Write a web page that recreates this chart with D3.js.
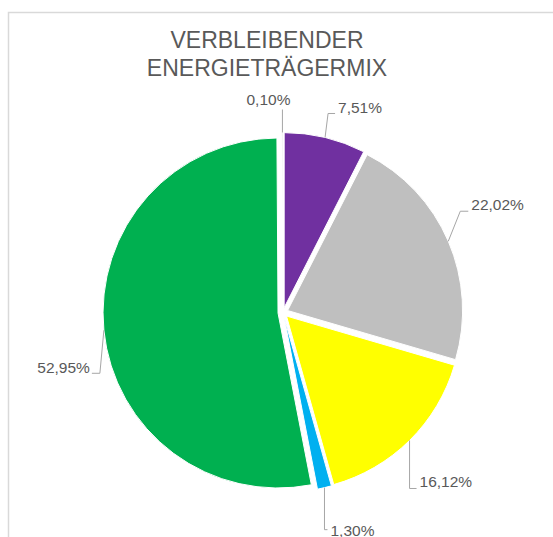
<!DOCTYPE html>
<html>
<head>
<meta charset="utf-8">
<script src="https://cdn.jsdelivr.net/npm/d3@7"></script>
<style>
  body { margin: 0; background: #fff; }
  svg { display: block; font-family: "Liberation Sans", Arial, sans-serif; }
</style>
</head>
<body>
<div id="chart"></div>
<script>
// data, clockwise from 12 o'clock
const categories = ["Sonstige A", "Sonstige B", "Erdgas", "Sonstige C", "Erneuerbare", "Sonstige D"];
const shares = [7.51, 22.02, 16.12, 1.30, 52.95, 0.10];
const labelTexts = ["7,51%", "22,02%", "16,12%", "1,30%", "52,95%", "0,10%"];
const colors = ["#7030A0", "#BFBFBF", "#FFFF00", "#00B0F0", "#00B050", "#D9D9D9"];
const titleLines = ["VERBLEIBENDER", "ENERGIETRÄGERMIX"];

// leader line layout: elbow offset from the slice edge, then horizontal run
const leaders = [
  {dx: 3, dy: -24, run: 7, ty: -1},
  {dx: 12, dy: -30, run: 8, ty: -1},
  {dx: 0, dy: 48, run: 7, ty: -1},
  {dx: 0, dy: 42, run: 3, ty: 6},
  {dx: -4, dy: 43, run: -8, ty: -0.5},
  {dx: 0, dy: -23, run: 0, ty: -5, above: true}
];

const width = 553, height = 537;
const cx = 283, cy = 312.5, radius = 175, explode = 5;

const svg = d3.select('#chart').append('svg')
  .attr('width', width)
  .attr('height', height);

// chart area border (continues past the right and bottom edges)
svg.append('rect')
  .attr('x', 8.5).attr('y', 12.5)
  .attr('width', 600).attr('height', 600)
  .style('fill', 'none')
  .style('stroke', '#d9d9d9')
  .style('stroke-width', 1.5);

// title
svg.append('text')
  .attr('x', 267)
  .attr('y', 48)
  .attr('text-anchor', 'middle')
  .style('font-size', '23px')
  .style('fill', '#595959')
  .selectAll('tspan')
  .data(titleLines).enter().append('tspan')
  .attr('x', 267)
  .attr('dy', (d, i) => i === 0 ? 0 : 28)
  .text(d => d);

const pie = d3.pie().sort(null).value(d => d);
const arcs = pie(shares);
const arc = d3.arc().innerRadius(0).outerRadius(radius);

const g = svg.append('g').attr('transform', 'translate(' + cx + ',' + cy + ')');

function mid(d) { return (d.startAngle + d.endAngle) / 2; }

g.selectAll('.slice')
  .data(arcs).enter().append('path')
  .attr('class', 'slice')
  .attr('d', arc)
  .attr('transform', d => {
    let a = mid(d);
    return 'translate(' + (explode * Math.sin(a)) + ',' + (-explode * Math.cos(a)) + ')';
  })
  .style('fill', (d, i) => colors[i])
  .style('stroke', '#fff')
  .style('stroke-width', 1);

// labels with leader lines
const lab = g.selectAll('.lab')
  .data(arcs).enter().append('g')
  .attr('class', 'lab');

lab.each(function(d, i) {
  let a = mid(d);
  let r = radius + explode;
  let sx = r * Math.sin(a), sy = -r * Math.cos(a);
  let L = leaders[i];
  let ex = sx + L.dx, ey = sy + L.dy;
  let fx = ex + L.run;
  let sel = d3.select(this);
  sel.append('path')
    .attr('d', d3.line()([[sx, sy], [ex, ey], [fx, ey]]))
    .style('fill', 'none')
    .style('stroke', '#a6a6a6')
    .style('stroke-width', 1);
  let t = sel.append('text')
    .text(labelTexts[i])
    .attr('y', ey + L.ty)
    .style('font-size', '15.5px')
    .style('fill', '#595959');
  if (L.above) {
    t.attr('x', ex - 14).attr('text-anchor', 'middle');
  } else if (L.run >= 0) {
    t.attr('x', fx + 3).attr('text-anchor', 'start');
  } else {
    t.attr('x', fx - 2).attr('text-anchor', 'end');
  }
});
</script>
</body>
</html>
